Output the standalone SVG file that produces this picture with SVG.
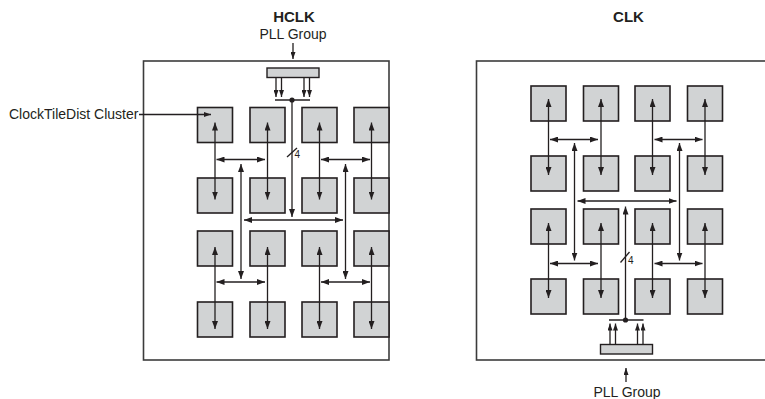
<svg xmlns="http://www.w3.org/2000/svg" width="765" height="399" viewBox="0 0 765 399">
<defs>
<marker id="ah" viewBox="0 0 8 6" refX="8" refY="3" markerWidth="8" markerHeight="6" markerUnits="userSpaceOnUse" orient="auto-start-reverse">
<path d="M0,0 L8,3 L0,6 z" fill="#231f20"/>
</marker>
<marker id="ahs" viewBox="0 0 7 5" refX="7" refY="2.5" markerWidth="7" markerHeight="5" markerUnits="userSpaceOnUse" orient="auto-start-reverse">
<path d="M0,0 L7,2.5 L0,5 z" fill="#231f20"/>
</marker>
</defs>
<style>
.panel{fill:#fff;stroke:#3c3c3c;stroke-width:1.6}
.tile{fill:#d1d3d4;stroke:#231f20;stroke-width:1.6}
.pll{fill:#d1d3d4;stroke:#231f20;stroke-width:1.4}
.t{font-family:"Liberation Sans",Arial,sans-serif;font-size:14px;fill:#231f20}
.b{font-family:"Liberation Sans",Arial,sans-serif;font-size:15px;font-weight:bold;fill:#231f20}
.n{font-family:"Liberation Sans",Arial,sans-serif;font-size:10px;fill:#231f20}
.c{fill:none;stroke:#231f20;stroke-width:1.3}
.d{marker-start:url(#ah);marker-end:url(#ah)}
.e{marker-end:url(#ah)}
.s{marker-end:url(#ahs)}
</style>
<rect width="765" height="399" fill="#fff"/>

<g id="panel-hclk"><rect class="panel" x="143.5" y="61" width="245.5" height="299"/></g>
<g id="panel-clk"><rect class="panel" x="476.5" y="61" width="300" height="299"/></g>

<g id="title-hclk"><text class="b" x="294" y="22" text-anchor="middle">HCLK</text><text class="t" x="293" y="39" text-anchor="middle">PLL Group</text></g>
<g id="title-clk"><text class="b" x="628.5" y="22" text-anchor="middle">CLK</text></g>
<g id="label-pll-bottom"><text class="t" x="627" y="396.5" text-anchor="middle">PLL Group</text></g>
<g id="label-cluster"><text class="t" x="9" y="119">ClockTileDist Cluster</text></g>

<g id="pll-hclk"><rect class="pll" x="267" y="68" width="52" height="9.5"/></g>
<g id="pll-clk"><rect class="pll" x="600.5" y="344.5" width="52" height="9.5"/></g>

<g id="tiles-hclk">
<rect id="h11" class="tile" x="197.5" y="107.5" width="35" height="35"/>
<rect id="h12" class="tile" x="250" y="107.5" width="35" height="35"/>
<rect id="h13" class="tile" x="302" y="107.5" width="35" height="35"/>
<rect id="h14" class="tile" x="354" y="107.5" width="35" height="35"/>
<rect id="h21" class="tile" x="197.5" y="178" width="35" height="35"/>
<rect id="h22" class="tile" x="250" y="178" width="35" height="35"/>
<rect id="h23" class="tile" x="302" y="178" width="35" height="35"/>
<rect id="h24" class="tile" x="354" y="178" width="35" height="35"/>
<rect id="h31" class="tile" x="197.5" y="231" width="35" height="35"/>
<rect id="h32" class="tile" x="250" y="231" width="35" height="35"/>
<rect id="h33" class="tile" x="302" y="231" width="35" height="35"/>
<rect id="h34" class="tile" x="354" y="231" width="35" height="35"/>
<rect id="h41" class="tile" x="197.5" y="302" width="35" height="35"/>
<rect id="h42" class="tile" x="250" y="302" width="35" height="35"/>
<rect id="h43" class="tile" x="302" y="302" width="35" height="35"/>
<rect id="h44" class="tile" x="354" y="302" width="35" height="35"/>
</g>

<g id="tiles-clk">
<rect id="c11" class="tile" x="531" y="86" width="35" height="35"/>
<rect id="c12" class="tile" x="583.5" y="86" width="35" height="35"/>
<rect id="c13" class="tile" x="635" y="86" width="35" height="35"/>
<rect id="c14" class="tile" x="687.5" y="86" width="35" height="35"/>
<rect id="c21" class="tile" x="531" y="156" width="35" height="35"/>
<rect id="c22" class="tile" x="583.5" y="156" width="35" height="35"/>
<rect id="c23" class="tile" x="635" y="156" width="35" height="35"/>
<rect id="c24" class="tile" x="687.5" y="156" width="35" height="35"/>
<rect id="c31" class="tile" x="531" y="209" width="35" height="35"/>
<rect id="c32" class="tile" x="583.5" y="209" width="35" height="35"/>
<rect id="c33" class="tile" x="635" y="209" width="35" height="35"/>
<rect id="c34" class="tile" x="687.5" y="209" width="35" height="35"/>
<rect id="c41" class="tile" x="531" y="279" width="35" height="35"/>
<rect id="c42" class="tile" x="583.5" y="279" width="35" height="35"/>
<rect id="c43" class="tile" x="635" y="279" width="35" height="35"/>
<rect id="c44" class="tile" x="687.5" y="279" width="35" height="35"/>
</g>

<g id="connectors">
<line class="c s" x1="293" y1="43" x2="293" y2="59"/>
<line class="c s" x1="626" y1="382" x2="626" y2="368"/>
<line class="c s" x1="139" y1="114.5" x2="211" y2="114.5"/>

<line class="c s" x1="276" y1="77.5" x2="276" y2="97"/>
<line class="c s" x1="281.5" y1="77.5" x2="281.5" y2="97"/>
<line class="c s" x1="304" y1="77.5" x2="304" y2="97"/>
<line class="c s" x1="309.5" y1="77.5" x2="309.5" y2="97"/>
<line class="c" x1="275" y1="100" x2="310" y2="100"/>
<circle cx="292" cy="100" r="2.6" fill="#231f20"/>
<line class="c e" x1="292" y1="100" x2="292" y2="217"/>
<line class="c" x1="287" y1="157" x2="297" y2="148"/>
<text class="n" x="294.5" y="158">4</text>
<line class="c d" x1="244" y1="220" x2="343" y2="220"/>
<line class="c d" x1="241" y1="164" x2="241" y2="279"/>
<line class="c d" x1="345.5" y1="164" x2="345.5" y2="279"/>
<line class="c d" x1="216.5" y1="159.5" x2="265" y2="159.5"/>
<line class="c d" x1="321" y1="159.5" x2="370" y2="159.5"/>
<line class="c d" x1="216.5" y1="282" x2="265" y2="282"/>
<line class="c d" x1="321" y1="282" x2="370" y2="282"/>
<line class="c d" x1="215" y1="122.5" x2="215" y2="199.5"/>
<line class="c d" x1="267.5" y1="122.5" x2="267.5" y2="199.5"/>
<line class="c d" x1="319.5" y1="122.5" x2="319.5" y2="199.5"/>
<line class="c d" x1="371.5" y1="122.5" x2="371.5" y2="199.5"/>
<line class="c d" x1="215" y1="247" x2="215" y2="329"/>
<line class="c d" x1="267.5" y1="247" x2="267.5" y2="329"/>
<line class="c d" x1="319.5" y1="247" x2="319.5" y2="329"/>
<line class="c d" x1="371.5" y1="247" x2="371.5" y2="329"/>

<line class="c s" x1="610" y1="344.5" x2="610" y2="323.5"/>
<line class="c s" x1="615.5" y1="344.5" x2="615.5" y2="323.5"/>
<line class="c s" x1="637.5" y1="344.5" x2="637.5" y2="323.5"/>
<line class="c s" x1="643" y1="344.5" x2="643" y2="323.5"/>
<line class="c" x1="609" y1="320" x2="643.5" y2="320"/>
<circle cx="625.5" cy="320" r="2.6" fill="#231f20"/>
<line class="c e" x1="625.5" y1="320" x2="625.5" y2="206.5"/>
<line class="c" x1="620.5" y1="262.5" x2="629.5" y2="252"/>
<text class="n" x="628" y="264">4</text>
<line class="c d" x1="577.5" y1="201" x2="676.5" y2="201"/>
<line class="c d" x1="574.5" y1="143" x2="574.5" y2="260.5"/>
<line class="c d" x1="679.5" y1="143" x2="679.5" y2="260.5"/>
<line class="c d" x1="550" y1="139.5" x2="598" y2="139.5"/>
<line class="c d" x1="654.5" y1="139.5" x2="702.5" y2="139.5"/>
<line class="c d" x1="550" y1="263.5" x2="598" y2="263.5"/>
<line class="c d" x1="654.5" y1="263.5" x2="702.5" y2="263.5"/>
<line class="c d" x1="548.5" y1="99" x2="548.5" y2="175"/>
<line class="c d" x1="601" y1="99" x2="601" y2="175"/>
<line class="c d" x1="652.5" y1="99" x2="652.5" y2="175"/>
<line class="c d" x1="705" y1="99" x2="705" y2="175"/>
<line class="c d" x1="548.5" y1="223" x2="548.5" y2="298"/>
<line class="c d" x1="601" y1="223" x2="601" y2="298"/>
<line class="c d" x1="652.5" y1="223" x2="652.5" y2="298"/>
<line class="c d" x1="705" y1="223" x2="705" y2="298"/>
</g>
</svg>
